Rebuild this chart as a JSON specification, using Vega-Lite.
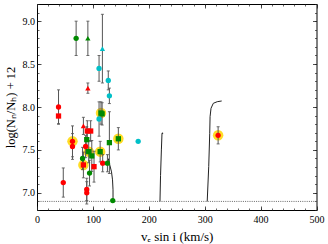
{
  "$schema": "https://vega.github.io/schema/vega-lite/v6.json",
  "width": 279.5,
  "height": 206,
  "autosize": "none",
  "padding": {"left": 37, "top": 4, "right": 11.5, "bottom": 34},
  "config": {
    "view": {"stroke": "black", "strokeWidth": 1},
    "font": "Liberation Serif",
    "axis": {"labelColor": "black", "tickColor": "#222", "titleColor": "black", "grid": false, "domain": false, "labelFlush": false}
  },
  "datasets": {
    "pts": [
      {"v": 70, "n": 8.80, "err": 0.2, "sample": "B", "kind": "c", "flag": false},
      {"v": 91, "n": 8.80, "err": 0.2, "sample": "B", "kind": "t", "flag": false},
      {"v": 91, "n": 8.22, "err": 0.06, "sample": "A", "kind": "t", "flag": false},
      {"v": 117, "n": 8.68, "err": 0.4, "sample": "C", "kind": "t", "flag": false},
      {"v": 111, "n": 8.45, "err": 0.15, "sample": "C", "kind": "c", "flag": false},
      {"v": 127.5, "n": 8.31, "err": 0.11, "sample": "C", "kind": "c", "flag": false},
      {"v": 129.5, "n": 8.13, "err": 0.09, "sample": "C", "kind": "c", "flag": false},
      {"v": 38.5, "n": 8.00, "err": 0.2, "sample": "A", "kind": "c", "flag": false},
      {"v": 38.5, "n": 7.895, "err": 0.09, "sample": "A", "kind": "s", "flag": false},
      {"v": 114.5, "n": 7.93, "err": 0.13, "sample": "B", "kind": "s", "flag": true},
      {"v": 116.5, "n": 7.92, "err": 0.13, "sample": "B", "kind": "s", "flag": false},
      {"v": 111, "n": 7.86, "err": 0.2, "sample": "C", "kind": "c", "flag": false},
      {"v": 83, "n": 7.78, "err": 0.1, "sample": "A", "kind": "t", "flag": false},
      {"v": 90, "n": 7.72, "err": 0.12, "sample": "A", "kind": "s", "flag": false},
      {"v": 96, "n": 7.72, "err": 0.12, "sample": "A", "kind": "s", "flag": false},
      {"v": 63.5, "n": 7.60, "err": 0.18, "sample": "A", "kind": "c", "flag": true},
      {"v": 63.5, "n": 7.54, "err": 0.15, "sample": "A", "kind": "c", "flag": false},
      {"v": 89, "n": 7.62, "err": 0.15, "sample": "B", "kind": "s", "flag": false},
      {"v": 87, "n": 7.54, "err": 0.13, "sample": "A", "kind": "c", "flag": false},
      {"v": 92.5, "n": 7.48, "err": 0.13, "sample": "B", "kind": "s", "flag": true},
      {"v": 98, "n": 7.43, "err": 0.18, "sample": "B", "kind": "s", "flag": false},
      {"v": 113, "n": 7.48, "err": 0.12, "sample": "B", "kind": "s", "flag": true},
      {"v": 81.5, "n": 7.40, "err": 0.13, "sample": "B", "kind": "c", "flag": false},
      {"v": 83, "n": 7.325, "err": 0.15, "sample": "A", "kind": "s", "flag": true},
      {"v": 102, "n": 7.305, "err": 0.18, "sample": "A", "kind": "s", "flag": false},
      {"v": 94, "n": 7.23, "err": 0.15, "sample": "B", "kind": "c", "flag": false},
      {"v": 117.5, "n": 7.345, "err": 0.1, "sample": "A", "kind": "c", "flag": false},
      {"v": 126, "n": 7.345, "err": 0.1, "sample": "B", "kind": "c", "flag": false},
      {"v": 129.5, "n": 7.585, "err": 0.36, "sample": "B", "kind": "s", "flag": false},
      {"v": 135.5, "n": 6.91, "err": null, "sample": "B", "kind": "c", "flag": false},
      {"v": 145.5, "n": 7.63, "err": 0.13, "sample": "B", "kind": "s", "flag": true},
      {"v": 181, "n": 7.60, "err": null, "sample": "C", "kind": "c", "flag": false},
      {"v": 324, "n": 7.67, "err": 0.1, "sample": "A", "kind": "c", "flag": true},
      {"v": 47, "n": 7.12, "err": 0.17, "sample": "A", "kind": "c", "flag": false},
      {"v": 89, "n": 7.04, "err": 0.13, "sample": "A", "kind": "c", "flag": false},
      {"v": 89, "n": 7.00, "err": 0.13, "sample": "A", "kind": "c", "flag": false}
    ],
    "tracks": [
      {"track": "a", "i": 0, "v": 127.5, "n": 7.40},
      {"track": "a", "i": 1, "v": 130.6, "n": 7.314},
      {"track": "a", "i": 2, "v": 133.3, "n": 7.244},
      {"track": "a", "i": 3, "v": 135.1, "n": 7.151},
      {"track": "a", "i": 4, "v": 136.0, "n": 7.035},
      {"track": "a", "i": 5, "v": 136.0, "n": 6.90},
      {"track": "b", "i": 0, "v": 220.0, "n": 6.90},
      {"track": "b", "i": 1, "v": 221.0, "n": 7.20},
      {"track": "b", "i": 2, "v": 222.5, "n": 7.50},
      {"track": "b", "i": 3, "v": 223.6, "n": 7.69},
      {"track": "b", "i": 4, "v": 224.4, "n": 7.70},
      {"track": "b", "i": 5, "v": 225.0, "n": 7.685},
      {"track": "c", "i": 0, "v": 304.5, "n": 6.90},
      {"track": "c", "i": 1, "v": 307.2, "n": 7.306},
      {"track": "c", "i": 2, "v": 309.0, "n": 7.694},
      {"track": "c", "i": 3, "v": 309.6, "n": 7.887},
      {"track": "c", "i": 4, "v": 311.3, "n": 7.985},
      {"track": "c", "i": 5, "v": 315.4, "n": 8.043},
      {"track": "c", "i": 6, "v": 322.5, "n": 8.062},
      {"track": "c", "i": 7, "v": 330.4, "n": 8.07}
    ],
    "limit": [{"n": 6.9}]
  },
  "layer": [
    {
      "data": {"name": "limit"},
      "mark": {"type": "rule", "color": "#666", "strokeDash": [1, 1.2], "strokeWidth": 1},
      "encoding": {
        "y": {"field": "n", "type": "quantitative", "scale": {"domain": [6.8, 9.2], "nice": false, "zero": false},
          "axis": {"orient": "left", "values": [6.8, 6.9, 7.0, 7.1, 7.2, 7.3, 7.4, 7.5, 7.6, 7.7, 7.8, 7.9, 8.0, 8.1, 8.2, 8.3, 8.4, 8.5, 8.6, 8.7, 8.8, 8.9, 9.0, 9.1, 9.2], "tickSize": -2, "tickWidth": 0.7, "labels": false, "title": null}}
      }
    },
    {
      "data": {"name": "tracks"},
      "mark": {"type": "line", "color": "#222", "strokeWidth": 1},
      "encoding": {
        "x": {"field": "v", "type": "quantitative", "scale": {"domain": [0, 500], "nice": false},
          "axis": {"orient": "bottom", "values": [0, 20, 40, 60, 80, 100, 120, 140, 160, 180, 200, 220, 240, 260, 280, 300, 320, 340, 360, 380, 400, 420, 440, 460, 480, 500], "tickSize": -2, "tickWidth": 0.7, "labels": false, "title": null}},
        "y": {"field": "n", "type": "quantitative",
          "axis": {"orient": "right", "values": [6.8, 6.9, 7.0, 7.1, 7.2, 7.3, 7.4, 7.5, 7.6, 7.7, 7.8, 7.9, 8.0, 8.1, 8.2, 8.3, 8.4, 8.5, 8.6, 8.7, 8.8, 8.9, 9.0, 9.1, 9.2], "tickSize": -2, "tickWidth": 0.7, "labels": false, "title": null}},
        "detail": {"field": "track"},
        "order": {"field": "i", "type": "quantitative"}
      }
    },
    {
      "data": {"name": "pts"},
      "transform": [{"filter": "datum.flag"}],
      "mark": {"type": "circle", "color": "#ffd700", "opacity": 0.85, "size": 110},
      "encoding": {
        "x": {"field": "v", "type": "quantitative",
          "axis": {"orient": "top", "values": [0, 100, 200, 300, 400, 500], "tickSize": -4, "tickWidth": 0.8, "labels": false, "title": null}},
        "y": {"field": "n", "type": "quantitative",
          "axis": {"orient": "right", "values": [7.0, 7.5, 8.0, 8.5, 9.0], "tickSize": -4, "tickWidth": 0.8, "labels": false, "title": null}}
      }
    },
    {
      "data": {"name": "pts"},
      "transform": [{"filter": "datum.err > 0"}],
      "mark": {"type": "errorbar", "color": "#555", "thickness": 1, "ticks": {"size": 3, "color": "#333"}},
      "encoding": {
        "x": {"field": "v", "type": "quantitative",
          "axis": {"orient": "top", "values": [0, 20, 40, 60, 80, 100, 120, 140, 160, 180, 200, 220, 240, 260, 280, 300, 320, 340, 360, 380, 400, 420, 440, 460, 480, 500], "tickSize": -2, "tickWidth": 0.7, "labels": false, "title": null}},
        "y": {"field": "n", "type": "quantitative", "axis": null},
        "yError": {"field": "err"}
      }
    },
    {
      "data": {"name": "pts"},
      "mark": {"type": "point", "filled": true, "opacity": 1, "size": 28},
      "encoding": {
        "x": {"field": "v", "type": "quantitative",
          "axis": {"orient": "bottom", "values": [0, 100, 200, 300, 400, 500], "tickSize": -4, "tickWidth": 0.8, "labelPadding": 8, "labelFontSize": 10, "labelFont": "Liberation Serif",
            "title": "vₑ sin i (km/s)", "titleFont": "Liberation Serif", "titleFontSize": 13, "titleFontWeight": "normal", "titlePadding": 6}},
        "y": {"field": "n", "type": "quantitative",
          "axis": {"orient": "left", "values": [7.0, 7.5, 8.0, 8.5, 9.0], "format": ".1f", "tickSize": -4, "tickWidth": 0.8, "labelPadding": 6.5, "labelFontSize": 10, "labelFont": "Liberation Serif",
            "title": "log(Nₙ/Nₕ) + 12", "titleFont": "Liberation Serif", "titleFontSize": 12.5, "titleFontWeight": "normal", "titlePadding": 5}},
        "color": {"field": "sample", "type": "nominal", "scale": {"domain": ["A", "B", "C"], "range": ["#ff0000", "#008a00", "#00c0c8"]}, "legend": null},
        "shape": {"field": "kind", "type": "nominal", "scale": {"domain": ["c", "s", "t"], "range": ["circle", "square", "triangle-up"]}, "legend": null}
      }
    }
  ],
  "resolve": {"axis": {"x": "independent", "y": "independent"}}
}
